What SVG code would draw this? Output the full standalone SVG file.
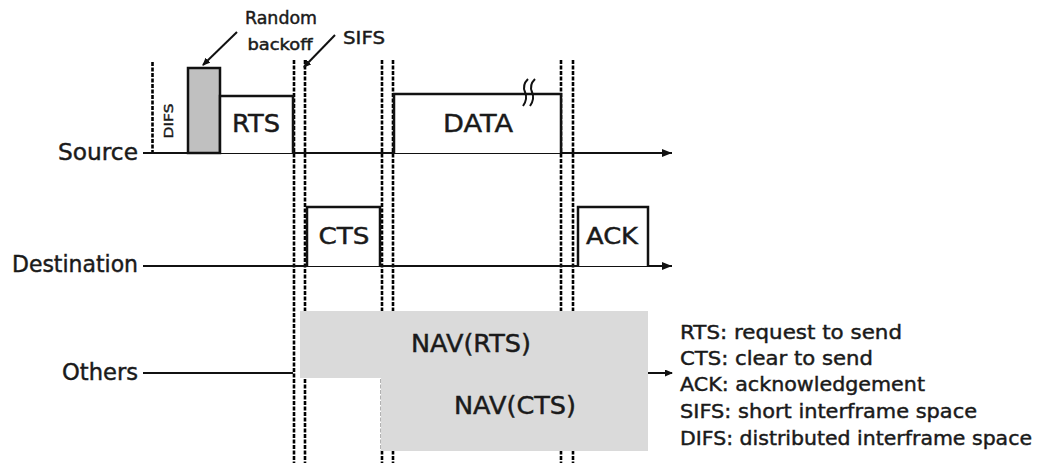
<svg xmlns="http://www.w3.org/2000/svg" width="1044" height="463" viewBox="0 0 1044 463">
<defs>
<marker id="ah" markerWidth="10" markerHeight="8" refX="10" refY="4" orient="auto" markerUnits="userSpaceOnUse">
<path d="M0,0 L10,4 L0,8 Z" fill="#111"/>
</marker>
<marker id="ahs" markerWidth="8" markerHeight="7" refX="7" refY="3.5" orient="auto" markerUnits="userSpaceOnUse">
<path d="M0,0 L8,3.5 L0,7 Z" fill="#111"/>
</marker>
<style>
.t{font-family:"DejaVu Sans","Liberation Sans",sans-serif;fill:#1a1a1a;stroke:#1a1a1a;stroke-width:0.45}
.line{stroke:#111;stroke-width:2;fill:none}
.box{stroke:#111;stroke-width:2.5;fill:#fff}
.dash{stroke:#000;stroke-width:2.6;stroke-dasharray:4 1.5;fill:none}
.nav{fill:#dadada;stroke:none}
</style>
</defs>
<rect width="1044" height="463" fill="#fff"/>

<g id="slots">
<line class="dash" x1="152.5" y1="62" x2="152.5" y2="153"/>
<line class="dash" x1="294" y1="60" x2="294" y2="463"/>
<line class="dash" x1="305" y1="60" x2="305" y2="463"/>
<line class="dash" x1="382" y1="60" x2="382" y2="463"/>
<line class="dash" x1="393" y1="60" x2="393" y2="463"/>
<line class="dash" x1="561" y1="60" x2="561" y2="463"/>
<line class="dash" x1="573" y1="60" x2="573" y2="463"/>
</g>

<g id="nav">
<path class="nav" d="M300,311 H648 V451 H381 V378 H300 Z"/>
<text class="t" x="471" y="352" font-size="24" text-anchor="middle" textLength="120" lengthAdjust="spacingAndGlyphs">NAV(RTS)</text>
<text class="t" x="515" y="414" font-size="24" text-anchor="middle" textLength="122" lengthAdjust="spacingAndGlyphs">NAV(CTS)</text>
</g>

<g id="connectors">
<line class="line" x1="143" y1="153" x2="672" y2="153" marker-end="url(#ah)"/>
<line class="line" x1="143" y1="266" x2="672" y2="266" marker-end="url(#ah)"/>
<line class="line" x1="143" y1="373" x2="293" y2="373"/>
<line class="line" x1="648" y1="373" x2="672" y2="373" marker-end="url(#ahs)"/>
<line class="line" x1="237" y1="32" x2="203" y2="65" marker-end="url(#ahs)"/>
<line class="line" x1="335" y1="35" x2="304" y2="67" marker-end="url(#ahs)"/>
</g>

<g id="difs">
<text class="t" transform="translate(173,121) rotate(-90)" font-size="13" text-anchor="middle" textLength="35" lengthAdjust="spacingAndGlyphs">DIFS</text>
</g>

<g id="backoff">
<rect x="188" y="68" width="32" height="85" fill="#c0c0c0" stroke="#111" stroke-width="2.5"/>
<text class="t" x="281" y="24" font-size="17" text-anchor="middle" textLength="72" lengthAdjust="spacingAndGlyphs">Random</text>
<text class="t" x="280" y="50" font-size="15" text-anchor="middle" textLength="65" lengthAdjust="spacingAndGlyphs">backoff</text>
</g>

<g id="sifs">
<text class="t" x="364" y="44" font-size="18" text-anchor="middle" textLength="42" lengthAdjust="spacingAndGlyphs">SIFS</text>
</g>

<g id="rts">
<path class="box" d="M220,153 V96 H293 V153"/>
<text class="t" x="256" y="132" font-size="24" text-anchor="middle" textLength="48" lengthAdjust="spacingAndGlyphs">RTS</text>
</g>

<g id="data">
<path class="box" d="M394,153 V94 H561 V153"/>
<text class="t" x="478" y="132" font-size="25" text-anchor="middle" textLength="70" lengthAdjust="spacingAndGlyphs">DATA</text>
<path class="line" d="M528,79 q-6,6 -3,13 q3,7 -2,14" stroke-width="1.8"/>
<path class="line" d="M535,79 q-6,6 -3,13 q3,7 -2,14" stroke-width="1.8"/>
</g>

<g id="cts">
<path class="box" d="M307,266 V207 H380 V266"/>
<text class="t" x="344" y="244" font-size="23" text-anchor="middle" textLength="51" lengthAdjust="spacingAndGlyphs">CTS</text>
</g>

<g id="ack">
<path class="box" d="M578,266 V207 H648 V266"/>
<text class="t" x="612" y="244" font-size="23" text-anchor="middle" textLength="52" lengthAdjust="spacingAndGlyphs">ACK</text>
</g>

<g id="labels">
<text class="t" x="138" y="160" font-size="23" text-anchor="end" textLength="80" lengthAdjust="spacingAndGlyphs">Source</text>
<text class="t" x="138" y="272" font-size="23" text-anchor="end" textLength="126" lengthAdjust="spacingAndGlyphs">Destination</text>
<text class="t" x="138" y="380" font-size="23" text-anchor="end" textLength="76" lengthAdjust="spacingAndGlyphs">Others</text>
</g>

<g id="legend">
<text class="t" x="680" y="339" font-size="20" textLength="222" lengthAdjust="spacingAndGlyphs">RTS: request to send</text>
<text class="t" x="680" y="365" font-size="20" textLength="193" lengthAdjust="spacingAndGlyphs">CTS: clear to send</text>
<text class="t" x="680" y="391" font-size="20" textLength="245" lengthAdjust="spacingAndGlyphs">ACK: acknowledgement</text>
<text class="t" x="680" y="418" font-size="20" textLength="297" lengthAdjust="spacingAndGlyphs">SIFS: short interframe space</text>
<text class="t" x="680" y="445" font-size="20" textLength="352" lengthAdjust="spacingAndGlyphs">DIFS: distributed interframe space</text>
</g>
</svg>
